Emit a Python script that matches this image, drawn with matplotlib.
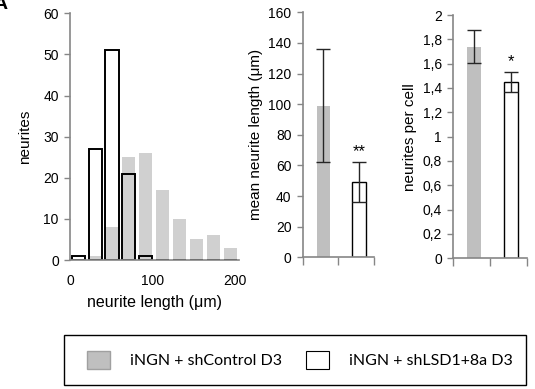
import numpy as np
import matplotlib.pyplot as plt
from matplotlib.patches import Patch, Rectangle
from matplotlib.ticker import FuncFormatter

plt.rcParams['font.family'] = ['Liberation Sans', 'DejaVu Sans']

# histogram data, bins of 20 um
bin_starts = np.arange(0, 200, 20)
hist_ctrl = [0, 1, 8, 25, 26, 17, 10, 5, 6, 3]
hist_lsd = [1, 27, 51, 21, 1, 0, 0, 0, 0, 0]

# mean neurite length
groups = ['iNGN + shControl D3', 'iNGN + shLSD1+8a D3']
mean_len = [99, 49]
mean_len_err = [37, 13]
len_star = '**'

# neurites per cell
per_cell = [1.74, 1.45]
per_cell_err = [0.135, 0.085]
cell_star = '*'

hist_grey = '#d0d0d0'
bar_grey = '#bfbfbf'
spine_c = '#868686'

fig = plt.figure(figsize=(5.35, 3.89), dpi=100)

def style(ax):
    for s in ['top', 'right']:
        ax.spines[s].set_visible(False)
    for s in ['left', 'bottom']:
        ax.spines[s].set_color(spine_c)
        ax.spines[s].set_linewidth(1.2)
    ax.tick_params(axis='y', colors=spine_c, labelcolor='black', labelsize=10,
                   length=4, width=1, pad=4)

# ---- histogram
ax1 = fig.add_axes([0.1308, 0.3316, 0.3159, 0.6342])
style(ax1)
centers = bin_starts + 9 + bin_starts * 0.03
ax1.bar(centers, hist_ctrl, width=16, color=hist_grey, zorder=1)
ax1.bar(centers, hist_lsd, width=16, facecolor='none', edgecolor='black',
        linewidth=1.4, zorder=2)
ax1.set_xlim(-1, 205)
ax1.set_ylim(0, 60)
ax1.set_yticks(range(0, 61, 10))
ax1.set_xticks([0, 100, 200])
ax1.tick_params(axis='x', length=0, labelsize=10, pad=10)
ax1.set_ylabel('neurites', fontsize=11, labelpad=8)
ax1.set_xlabel('neurite length (\u03bcm)', fontsize=11.5, labelpad=5)

# ---- bar charts
def barpanel(rect, vals, errs, ylim, step, ylabel, star, fmt=None):
    ax = fig.add_axes(rect)
    style(ax)
    x = np.arange(len(vals)) + 0.08
    ax.bar(x, vals, width=0.38, color=[bar_grey, 'white'],
           edgecolor=['none', 'black'], linewidth=1.0, zorder=1)
    ax.errorbar(x, vals, yerr=errs, fmt='none', ecolor='#262626', elinewidth=1.0,
                capsize=5, capthick=1.0, zorder=3)
    ax.text(x[1], vals[1] + errs[1] + ylim * 0.012, star, ha='center', va='bottom',
            fontsize=12)
    ax.set_xlim(-0.5, 1.5)
    ax.set_ylim(0, ylim)
    ax.set_yticks(np.arange(0, ylim + step / 2, step))
    if fmt:
        ax.yaxis.set_major_formatter(FuncFormatter(fmt))
    ax.set_xticks([-0.5, 0.5, 1.5])
    ax.set_xticklabels([])
    ax.tick_params(axis='x', colors=spine_c, length=6, width=1)
    ax.set_ylabel(ylabel, fontsize=11, labelpad=4)
    return ax

ax2 = barpanel([0.5658, 0.3386, 0.1333, 0.6298], mean_len, mean_len_err, 160, 20,
               'mean neurite length (\u03bcm)', len_star)

def comma(v, pos):
    s = ('%.1f' % v).rstrip('0').rstrip('.')
    return s.replace('.', ',')

ax3 = barpanel([0.8467, 0.3360, 0.1383, 0.6254], per_cell, per_cell_err, 2, 0.2,
               'neurites per cell', cell_star, fmt=comma)

# ---- legend (frame drawn separately)
fig.patches.append(Rectangle((0.1196, 0.0103), 0.8636, 0.1285, transform=fig.transFigure,
                             fill=False, edgecolor='black', linewidth=1.0))
handles = [Patch(facecolor=bar_grey, edgecolor='#a0a0a0', label=groups[0]),
           Patch(facecolor='white', edgecolor='black', linewidth=0.8, label=groups[1])]
fig.legend(handles=handles, loc='center left', ncol=2,
           bbox_to_anchor=(87 / 535, 1 - 360 / 389),
           frameon=False, prop={'family': 'Lato', 'size': 11.5},
           handlelength=1.44, handleheight=1.44, handletextpad=1.25,
           columnspacing=1.5, borderpad=0, borderaxespad=0)

fig.text(-0.012, 1.01, 'A', fontsize=14, fontweight='bold', va='top', ha='left')

fig.savefig('out.png', dpi=100)
